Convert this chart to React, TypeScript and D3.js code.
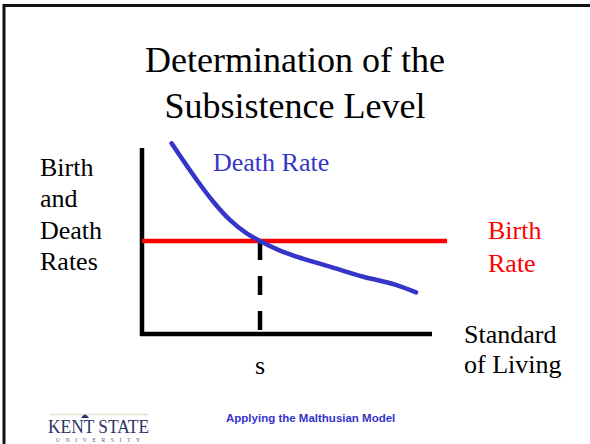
import React, { useRef, useEffect } from "react";
import * as d3 from "d3";

// Death rate curve (standard of living vs rate)
const standardOfLiving = [1.02, 1.89, 2.46, 3.03, 3.61, 4.07, 4.76, 5.33, 6.48, 7.63, 8.78, 9.45];
const deathRate = [10.25, 8.28, 7.11, 6.13, 5.41, 5.0, 4.48, 4.16, 3.62, 3.08, 2.63, 2.24];
const birthRate = 5.0;
const birthRateSpan = [0, 10.52];
const subsistence = 4.07;

const titleLines = ["Determination of the", "Subsistence Level"];
const yLabelLines = ["Birth", "and", "Death", "Rates"];
const xLabelLines = ["Standard", "of Living"];
const birthLabelLines = ["Birth", "Rate"];

const App = () => {
  const svgRef = useRef<SVGSVGElement>(null);

  const width = 590;
  const height = 444;
  const serif = "'Times New Roman', 'Liberation Serif', 'DejaVu Serif', serif";
  const blue = "#3535c8";

  useEffect(() => {
    const svg = d3.select(svgRef.current);
    svg.selectAll("*").remove();

    svg.append("rect").attr("width", width).attr("height", height).attr("fill", "#fff");

    // slide frame (top and left edges only)
    svg.append("line").attr("x1", 3).attr("x2", width).attr("y1", 5.5).attr("y2", 5.5)
      .attr("stroke", "#111").attr("stroke-width", 3);
    svg.append("line").attr("x1", 4).attr("x2", 4).attr("y1", 4).attr("y2", height)
      .attr("stroke", "#111").attr("stroke-width", 3);

    const x = d3.scaleLinear().domain([0, 10]).range([142, 432]);
    const y = d3.scaleLinear().domain([0, 10]).range([334, 148]);

    // title
    svg.append("g")
      .selectAll("text")
      .data(titleLines)
      .join("text")
      .attr("x", 295)
      .attr("y", (d, i) => 72 + i * 46)
      .attr("text-anchor", "middle")
      .attr("font-family", serif)
      .attr("font-size", 36)
      .attr("fill", "#000")
      .text(d => d);

    // axes
    svg.append("line")
      .attr("x1", x(0)).attr("x2", x(0))
      .attr("y1", y(10)).attr("y2", y(0) + 2)
      .attr("stroke", "#000").attr("stroke-width", 4.5);
    svg.append("line")
      .attr("x1", x(0) - 2).attr("x2", x(10))
      .attr("y1", y(0)).attr("y2", y(0))
      .attr("stroke", "#000").attr("stroke-width", 4.5);

    // dashed drop line at s
    svg.append("line")
      .attr("x1", x(subsistence)).attr("x2", x(subsistence))
      .attr("y1", y(birthRate)).attr("y2", y(0))
      .attr("stroke", "#000").attr("stroke-width", 4.5)
      .attr("stroke-dasharray", "19 16");

    // birth rate
    svg.append("line")
      .attr("x1", x(birthRateSpan[0])).attr("x2", x(birthRateSpan[1]))
      .attr("y1", y(birthRate)).attr("y2", y(birthRate))
      .attr("stroke", "#ff0000").attr("stroke-width", 4.5);

    // death rate curve
    const line = d3.line<number>()
      .x((d, i) => x(standardOfLiving[i]))
      .y(d => y(d))
      .curve(d3.curveMonotoneX);
    svg.append("path")
      .attr("d", line(deathRate))
      .attr("fill", "none")
      .attr("stroke", blue)
      .attr("stroke-width", 4.5)
      .attr("stroke-linecap", "round");

    // labels
    svg.append("text")
      .attr("x", 213).attr("y", 171)
      .attr("font-family", serif).attr("font-size", 26)
      .attr("fill", blue)
      .text("Death Rate");

    svg.append("g")
      .selectAll("text")
      .data(yLabelLines)
      .join("text")
      .attr("x", 40)
      .attr("y", (d, i) => 176 + i * 31.3)
      .attr("font-family", serif).attr("font-size", 26)
      .text(d => d);

    svg.append("g")
      .selectAll("text")
      .data(birthLabelLines)
      .join("text")
      .attr("x", 488)
      .attr("y", (d, i) => 239 + i * 33)
      .attr("font-family", serif).attr("font-size", 26)
      .attr("fill", "#ff0000")
      .text(d => d);

    svg.append("g")
      .selectAll("text")
      .data(xLabelLines)
      .join("text")
      .attr("x", 464)
      .attr("y", (d, i) => 343 + i * 30)
      .attr("font-family", serif).attr("font-size", 26)
      .text(d => d);

    svg.append("text")
      .attr("x", x(subsistence)).attr("y", 374)
      .attr("text-anchor", "middle")
      .attr("font-family", serif).attr("font-size", 26)
      .text("s");

    // footer
    svg.append("text")
      .attr("x", 226).attr("y", 422)
      .attr("font-family", "'Liberation Sans', Arial, sans-serif")
      .attr("font-weight", "bold")
      .attr("font-size", 11.5)
      .attr("fill", "#3333cc")
      .text("Applying the Malthusian Model");

    // Kent State logo
    const logo = svg.append("g").attr("fill", "#2c3366");
    logo.append("line").attr("x1", 50).attr("x2", 148).attr("y1", 414.5).attr("y2", 414.5)
      .attr("stroke", "#e2e2d4").attr("stroke-width", 1.5);
    logo.append("path").attr("d", "M81,418 Q85,411 89,418 Z");
    logo.append("text")
      .attr("x", 48).attr("y", 433)
      .attr("font-family", serif).attr("font-size", 19)
      .attr("textLength", 101).attr("lengthAdjust", "spacingAndGlyphs")
      .text("KENT STATE");
    logo.append("text")
      .attr("x", 56).attr("y", 441.5)
      .attr("font-family", serif).attr("font-size", 5.5)
      .attr("textLength", 84)
      .attr("fill", "#555a77")
      .text("UNIVERSITY");
  }, []);

  return (
    <svg
      ref={svgRef}
      width={width}
      height={height}
      style={{ position: "absolute", left: 0, top: 0, display: "block" }}
    />
  );
};

export default App;
